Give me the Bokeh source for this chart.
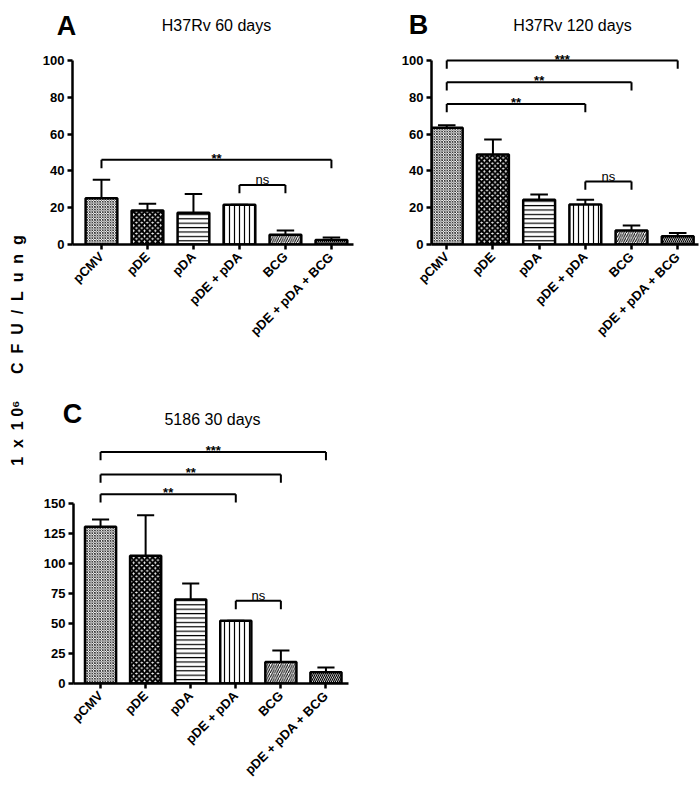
import math
from bokeh.plotting import figure
from bokeh.models import FixedTicker, Range1d, ColumnDataSource
from bokeh.layouts import row, column
from bokeh.embed import file_html
from bokeh.resources import INLINE
from bokeh.core.properties import value

groups = ["pCMV", "pDE", "pDA", "pDE + pDA", "BCG", "pDE + pDA + BCG"]

# panel A: H37Rv 60 days (mean and top of error bar)
a_mean = [25.2, 18.5, 17.2, 21.6, 5.3, 2.5]
a_top = [35.2, 22.1, 27.5, 21.6, 7.6, 3.8]
# panel B: H37Rv 120 days
b_mean = [63.4, 48.9, 24.3, 21.7, 7.6, 4.5]
b_top = [64.8, 57.1, 27.2, 24.3, 10.3, 6.3]
# panel C: 5186 30 days
c_mean = [130.6, 106.4, 70.0, 52.2, 18.0, 9.4]
c_top = [136.7, 140.3, 83.3, 52.2, 27.5, 13.3]

# significance brackets
a_br_from = [0, 3]
a_br_to = [5, 4]
a_br_y = [46.0, 32.4]
a_br_lab = ["**", "ns"]

b_br_from = [0, 0, 0, 3]
b_br_to = [5, 4, 3, 4]
b_br_y = [100.0, 88.2, 76.4, 34.2]
b_br_lab = ["***", "**", "**", "ns"]

c_br_from = [0, 0, 0, 3]
c_br_to = [5, 4, 3, 4]
c_br_y = [193.0, 174.2, 157.8, 68.9]
c_br_lab = ["***", "**", "**", "ns"]

ab_yticks = [0, 20, 40, 60, 80, 100]
c_yticks = [0, 25, 50, 75, 100, 125, 150]

# bar textures
hatch_patterns = ["diagonal_cross", "diagonal_cross", "horizontal_line", "vertical_line",
                  "right_diagonal_line", "left_diagonal_line"]
hatch_scales = [2.6, 5.4, 4.4, 5, 4.5, 4.0]
hatch_weights = [0.7, 2.2, 1.2, 1.2, 1.0, 1.2]
fill_colors = ["white", "white", "white", "white", "white", "white"]

FONT = "Liberation Sans"


def bare_figure(width, height):
    f = figure(width=width, height=height, x_range=Range1d(0, width),
               y_range=Range1d(height, 0), output_backend="svg",
               toolbar_location=None, title=None,
               x_axis_location=None, y_axis_location=None,
               min_border_left=0, min_border_right=0, min_border_top=0, min_border_bottom=0)
    f.xgrid.visible = False
    f.ygrid.visible = False
    f.outline_line_color = None
    f.frame_align = False
    return f


def make_header(width, height, letter, letter_xy, title, title_xy):
    h = bare_figure(width, height)
    h.text(x=[letter_xy[0]], y=[letter_xy[1]], text=[letter],
           text_font=value(FONT), text_font_size="27px", text_font_style="bold",
           text_align="center", text_baseline="alphabetic", text_color="black")
    h.text(x=[title_xy[0]], y=[title_xy[1]], text=[title],
           text_font=value(FONT), text_font_size="16px",
           text_align="center", text_baseline="alphabetic", text_color="black")
    return h


def make_panel(means, tops, br_from, br_to, br_lab, br_y, yticks, y_end, drop,
               x_start, x_end, frame_w, frame_h, bl, br, bt, bb):
    p = figure(width=bl + frame_w + br, height=bt + frame_h + bb,
               x_range=Range1d(x_start, x_end), y_range=Range1d(0, y_end),
               output_backend="svg", toolbar_location=None, title=None,
               min_border_left=bl, min_border_right=br,
               min_border_top=bt, min_border_bottom=bb)
    p.outline_line_color = None
    p.xgrid.visible = False
    p.ygrid.visible = False
    p.frame_align = False

    xs = list(range(len(groups)))
    src = ColumnDataSource(dict(x=xs, top=means, err=tops,
                                hp=hatch_patterns, hs=hatch_scales,
                                hw=hatch_weights, fc=fill_colors))
    p.vbar(x="x", top="top", bottom=0, width=0.69, source=src,
           fill_color="fc", hatch_pattern="hp", hatch_scale="hs",
           hatch_weight="hw", hatch_color="black",
           line_color="black", line_width=2.5)
    # error bars (upper only)
    p.segment(x0="x", y0="top", x1="x", y1="err", source=src,
              line_color="black", line_width=2)
    cap = 0.19
    p.segment(x0=[x - cap for x in xs], y0=tops, x1=[x + cap for x in xs], y1=tops,
              line_color="black", line_width=2)

    # significance brackets
    ppu = frame_h / y_end
    p.segment(x0=br_from, y0=br_y, x1=br_to, y1=br_y, line_color="black", line_width=2)
    p.segment(x0=br_from, y0=br_y, x1=br_from, y1=[y - drop for y in br_y],
              line_color="black", line_width=2)
    p.segment(x0=br_to, y0=br_y, x1=br_to, y1=[y - drop for y in br_y],
              line_color="black", line_width=2)
    for f, t, y, lab in zip(br_from, br_to, br_y, br_lab):
        star = lab.startswith("*")
        off = (1.5 if star else 5.0) / ppu
        p.text(x=[(f + t) / 2], y=[y + off], text=[lab],
               text_font=value(FONT), text_font_size="13px",
               text_font_style="bold" if star else "normal",
               text_align="center", text_baseline="alphabetic", text_color="black")

    for ax in (p.xaxis, p.yaxis):
        ax.axis_line_width = 2.5
        ax.axis_line_color = "black"
        ax.major_tick_line_width = 2.5
        ax.major_tick_line_color = "black"
        ax.major_tick_out = 5
        ax.major_tick_in = 0
        ax.minor_tick_line_color = None
        ax.major_label_text_font = FONT
        ax.major_label_text_font_size = "13px"
        ax.major_label_text_font_style = "bold"
        ax.major_label_text_color = "black"
    p.yaxis.ticker = FixedTicker(ticks=yticks)
    p.yaxis.bounds = (0, yticks[-1])
    p.yaxis.major_label_standoff = 3
    p.xaxis.ticker = FixedTicker(ticks=xs)
    p.xaxis.major_label_overrides = {i: g for i, g in enumerate(groups)}
    p.xaxis.major_label_orientation = math.pi / 4
    p.xaxis.major_label_standoff = 5
    return p


# Panel A: page x 36..365, header 0..44, frame x 72..353, y 60..244
hA = make_header(329, 44, "A", (30, 25), "H37Rv 60 days", (180, 25))
pA = make_panel(a_mean, a_top, a_br_from, a_br_to, a_br_lab, a_br_y, ab_yticks, 100.0, 4.5,
                -0.63, 5.48, 281, 184, 36, 12, 16, 136)
# Panel B: page x 365..700, header 0..44, frame x 431..698, y 44..244
hB = make_header(335, 44, "B", (53, 24), "H37Rv 120 days", (207, 25))
pB = make_panel(b_mean, b_top, b_br_from, b_br_to, b_br_lab, b_br_y, ab_yticks, 108.7, 4.5,
                -0.33, 5.45, 267, 200, 66, 2, 0, 136)
# Panel C: page x 36..358, header 380..430, frame x 73..348, y 431..683
hC = make_header(322, 50, "C", (36, 33), "5186 30 days", (176, 39))
pC = make_panel(c_mean, c_top, c_br_from, c_br_to, c_br_lab, c_br_y, c_yticks, 210.0, 7.0,
                -0.6, 5.5, 275, 252, 37, 10, 1, 104)

# shared y label
yl = bare_figure(36, 787)
nb = "\u00a0"
ylabel_text = ("1" + nb * 2 + "x" + nb * 2 + "1" + nb + "0\u2076" + nb * 6 +
               (nb * 2).join(list("CFU/Lung")))
yl.text(x=[17], y=[350], text=[ylabel_text], angle=math.pi / 2,
        text_font=value(FONT), text_font_size="16px", text_font_style="bold",
        text_align="center", text_baseline="middle", text_color="black")

layout = row(yl, column(row(column(hA, pA), column(hB, pB)), column(hC, pC)))

open("out.html", "w").write(file_html(layout, INLINE))
